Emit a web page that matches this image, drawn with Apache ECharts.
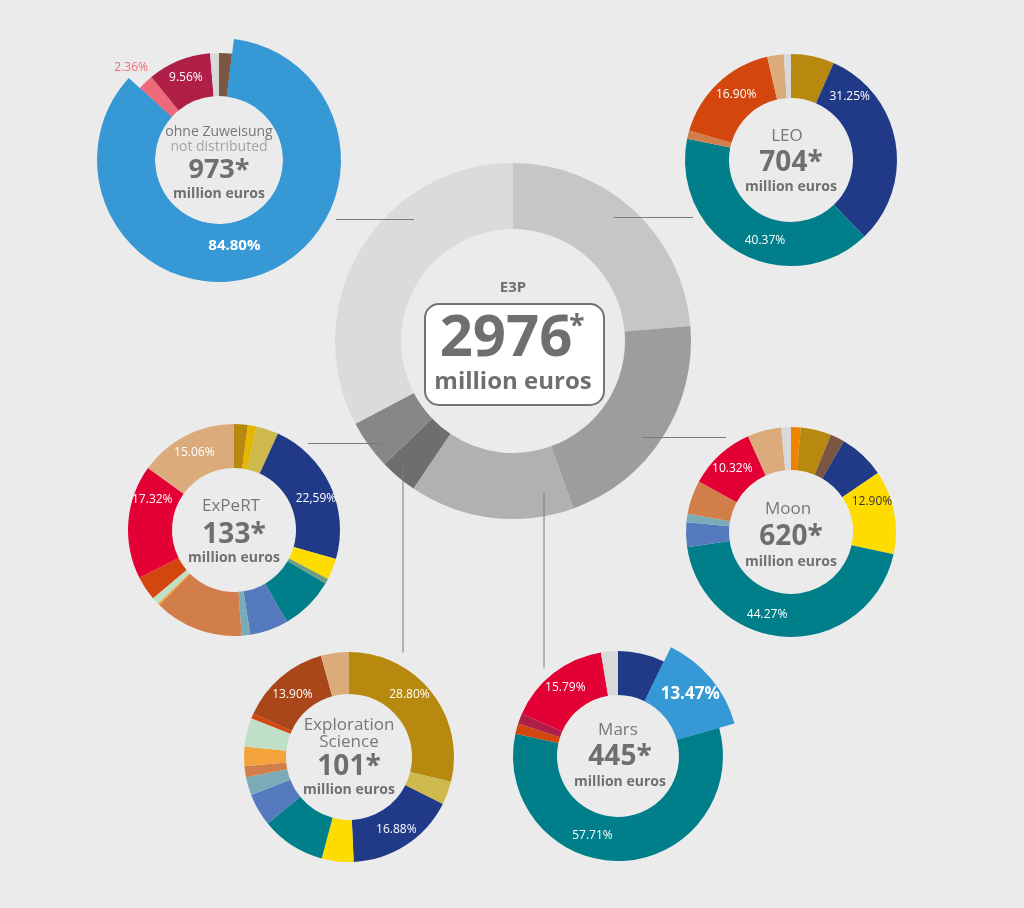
<!DOCTYPE html>
<html>
<head>
<meta charset="utf-8">
<title>E3P</title>
<script src="https://cdn.jsdelivr.net/npm/echarts@6.0.0/dist/echarts.min.js"></script>
<style>
  html, body { margin: 0; height: 100%; background: #ebebeb; }
  #main { width: 1024px; height: 908px; }
</style>
</head>
<body>
<div id="main"></div>
<script type="text/javascript">
// --- data ---
var e3pNames = ['LEO', 'Moon', 'Mars', 'Exploration Science', 'ExPeRT', 'ohne Zuweisung'];
var e3pValues = [704, 620, 445, 101, 133, 973];
var e3pTotal = '2976';

// ohne Zuweisung (973)
var ohneValues = [1.95, 84.80, 2.36, 9.56, 1.33];
var ohneLabels = ['', '84.80%', '2.36%', '9.56%', ''];
// LEO (704)
var leoValues = [6.6, 31.25, 40.37, 1.3, 16.90, 2.5, 1.1];
var leoLabels = ['', '31.25%', '40.37%', '', '16.90%', '', ''];
// ExPeRT (133)
var expertValues = [2.1, 1.3, 3.4, 22.59, 3.2, 0.8, 8.2, 5.9, 1.3, 13.6, 0.3, 1.1, 3.7, 17.32, 15.06];
var expertLabels = ['', '', '', '22,59%', '', '', '', '', '', '', '', '', '', '17.32%', '15.06%'];
// Moon (620)
var moonValues = [1.5, 4.7, 2.2, 7.1, 12.90, 44.27, 3.8, 1.3, 5.2, 10.32, 5.2, 1.5];
var moonLabels = ['', '', '', '', '12.90%', '44.27%', '', '', '', '10.32%', '', ''];
// Exploration Science (101)
var explValues = [28.80, 3.6, 16.88, 4.9, 9.9, 5.0, 2.8, 1.7, 3.0, 4.4, 0.8, 13.90, 4.3];
var explLabels = ['28.80%', '', '16.88%', '', '', '', '', '', '', '', '', '13.90%', ''];
// Mars (445)
var marsValues = [7.2, 13.47, 57.71, 1.6, 1.6, 15.79, 2.6];
var marsLabels = ['', '13.47%', '57.71%', '', '', '15.79%', ''];

// --- colours ---
var C = {
  navy: '#213a88', teal: '#007f8a', gold: '#b8890f', khaki: '#cdb94c', ygold: '#e5b500',
  yellow: '#ffdc00', tan: '#dcab7b', red: '#e30035', orred: '#d3460e', salmon: '#d27e4b',
  peri: '#5479bd', lteal: '#7aabb8', lgreen: '#bfe0c6', orange: '#f4a33a', brown: '#7b5741',
  lgray: '#d9d9d9', borange: '#f18200', rust: '#a9461a', crimson: '#b01f48', ggreen: '#6e9c84',
  blue: '#3698d5', pink: '#ee6a7b'
};
var e3pColors = ['#c6c6c6', '#9d9d9d', '#b1b1b1', '#6e6e6e', '#878787', '#dbdbdb'];
var ohneColors = [C.brown, C.blue, C.pink, C.crimson, C.lgray];
var leoColors = [C.gold, C.navy, C.teal, C.salmon, C.orred, C.tan, C.lgray];
var expertColors = [C.gold, C.ygold, C.khaki, C.navy, C.yellow, C.ggreen, C.teal, C.peri, C.lteal,
  C.salmon, C.orange, C.lgreen, C.orred, C.red, C.tan];
var moonColors = [C.borange, C.gold, C.brown, C.navy, C.yellow, C.teal, C.peri, C.lteal, C.salmon,
  C.red, C.tan, C.lgray];
var explColors = [C.gold, C.khaki, C.navy, C.yellow, C.teal, C.peri, C.lteal, C.salmon, C.orange,
  C.lgreen, C.orred, C.rust, C.tan];
var marsColors = [C.navy, C.blue, C.teal, C.orred, C.crimson, C.red, C.lgray];

var FONT = '"Open Sans", "Noto Sans", sans-serif';

// build one small donut (plus an overlay for the slice that sticks out)
function donut(cfg) {
  var out = [];
  var lbl = function (i) {
    var st = (cfg.labelStyle && cfg.labelStyle[i]) || {};
    return {
      show: cfg.labels[i] !== '',
      position: 'inside',
      formatter: cfg.labels[i],
      color: st.color || '#ffffff',
      fontSize: st.fontSize || 12,
      fontWeight: st.fontWeight || 'normal',
      fontFamily: FONT
    };
  };
  var layout = function (p) {
    var o = cfg.offsets && cfg.offsets[p.dataIndex];
    return o ? { dx: o[0], dy: o[1] } : {};
  };
  out.push({
    type: 'pie', center: cfg.center, radius: [cfg.r, cfg.R],
    startAngle: 90, clockwise: true, silent: true, avoidLabelOverlap: false,
    labelLine: { show: false }, labelLayout: layout,
    data: cfg.values.map(function (v, i) {
      var hide = (i === cfg.big);
      return { value: v, itemStyle: { color: cfg.colors[i] }, label: hide ? { show: false } : lbl(i) };
    })
  });
  if (cfg.big !== undefined) {
    out.push({
      type: 'pie', center: cfg.center, radius: [cfg.r, cfg.bigR], z: 3,
      startAngle: 90, clockwise: true, silent: true, avoidLabelOverlap: false,
      labelLine: { show: false }, labelLayout: layout,
      data: cfg.values.map(function (v, i) {
        var on = (i === cfg.big);
        return { value: v, itemStyle: { color: on ? cfg.colors[i] : 'rgba(0,0,0,0)' },
                 label: on ? lbl(i) : { show: false } };
      })
    });
  }
  return out;
}

function centerText(cx, cy, lines) {
  return lines.map(function (l) {
    return {
      type: 'text', x: cx + (l.dx || 0), y: cy + l.dy, z: 10, silent: true,
      style: {
        text: l.text, fill: l.color || '#6f6f6f', fontSize: l.size,
        fontWeight: l.bold ? 'bold' : 'normal', fontFamily: FONT,
        align: 'center', verticalAlign: 'middle'
      }
    };
  });
}

var series = [];
// central E3P donut
series.push({
  type: 'pie', center: [513, 341], radius: [112, 178],
  startAngle: 90, clockwise: true, silent: true,
  label: { show: false }, labelLine: { show: false },
  data: e3pValues.map(function (v, i) {
    return { name: e3pNames[i], value: v, itemStyle: { color: e3pColors[i] } };
  })
});

series = series.concat(donut({
  center: [219, 160], r: 64, R: 107, big: 1, bigR: 122,
  values: ohneValues, labels: ohneLabels, colors: ohneColors,
  labelStyle: { 1: { fontWeight: 'bold', fontSize: 15 }, 2: { color: C.pink } },
  offsets: { 1: [-18, -4], 2: [-27, -28] }
}));
series = series.concat(donut({
  center: [791, 160], r: 62, R: 106,
  values: leoValues, labels: leoLabels, colors: leoColors,
  offsets: { 1: [-27, -48], 4: [5, -2], 2: [16, 4] }
}));
series = series.concat(donut({
  center: [234, 530], r: 62, R: 106,
  values: expertValues, labels: expertLabels, colors: expertColors,
  offsets: { 3: [3, 5], 13: [5, -24] }
}));
series = series.concat(donut({
  center: [791, 532], r: 62, R: 105,
  values: moonValues, labels: moonLabels, colors: moonColors,
  labelStyle: { 4: { color: '#333333' } },
  offsets: { 4: [-4, -14], 5: [-21, -4] }
}));
series = series.concat(donut({
  center: [349, 757], r: 63, R: 105,
  values: explValues, labels: explLabels, colors: explColors,
  offsets: { 0: [-8, -9], 11: [0, 4] }
}));
series = series.concat(donut({
  center: [618, 756], r: 61, R: 105, big: 1, bigR: 121,
  values: marsValues, labels: marsLabels, colors: marsColors,
  labelStyle: { 1: { fontWeight: 'bold', fontSize: 17 } },
  offsets: { 1: [0, -2], 2: [-28, -6] }
}));

var graphics = [];
// connector lines
var lineStyle = { stroke: '#7a7a7a', lineWidth: 1 };
[[336, 219, 414, 219], [614, 217, 693, 217], [642, 437, 726, 437],
 [308, 443, 382, 443], [403, 465, 403, 652], [544, 492, 544, 667]].forEach(function (s) {
  graphics.push({ type: 'line', z: 5, silent: true, shape: { x1: s[0], y1: s[1] + 0.5, x2: s[2], y2: s[3] + 0.5 }, style: lineStyle });
});

// centre box
graphics.push({
  type: 'rect', z: 8, silent: true,
  shape: { x: 425, y: 304, width: 179, height: 101, r: 14 },
  style: { fill: '#ffffff', stroke: '#737373', lineWidth: 2 }
});
graphics = graphics.concat(centerText(513, 341, [
  { text: 'E3P', dy: -53, size: 15, bold: true },
  { text: e3pTotal, dy: -2, dx: -7, size: 58, bold: true },
  { text: '*', dy: -14, dx: 64, size: 28, bold: true },
  { text: 'million euros', dy: 41, size: 24, bold: true }
]));

graphics = graphics.concat(centerText(219, 160, [
  { text: 'ohne Zuweisung', dy: -28, size: 14, color: '#777777' },
  { text: 'not distributed', dy: -13, size: 14, color: '#a3a3a3' },
  { text: e3pValues[5] + '*', dy: 10, size: 27, bold: true },
  { text: 'million euros', dy: 34, size: 14, bold: true }
]));
graphics = graphics.concat(centerText(791, 160, [
  { text: 'LEO', dy: -24, dx: -4, size: 17, color: '#777777' },
  { text: e3pValues[0] + '*', dy: 3, size: 28, bold: true },
  { text: 'million euros', dy: 27, size: 14, bold: true }
]));
graphics = graphics.concat(centerText(234, 530, [
  { text: 'ExPeRT', dy: -24, dx: -3, size: 17, color: '#777777' },
  { text: e3pValues[4] + '*', dy: 5, size: 28, bold: true },
  { text: 'million euros', dy: 28, size: 14, bold: true }
]));
graphics = graphics.concat(centerText(791, 532, [
  { text: 'Moon', dy: -23, dx: -3, size: 17, color: '#777777' },
  { text: e3pValues[1] + '*', dy: 5, size: 28, bold: true },
  { text: 'million euros', dy: 30, size: 14, bold: true }
]));
graphics = graphics.concat(centerText(349, 757, [
  { text: 'Exploration', dy: -32, size: 17, color: '#777777' },
  { text: 'Science', dy: -15, size: 17, color: '#777777' },
  { text: e3pValues[3] + '*', dy: 10, size: 28, bold: true },
  { text: 'million euros', dy: 33, size: 14, bold: true }
]));
graphics = graphics.concat(centerText(618, 756, [
  { text: 'Mars', dy: -26, size: 17, color: '#777777' },
  { text: e3pValues[2] + '*', dy: 1, dx: 2, size: 28, bold: true },
  { text: 'million euros', dy: 26, dx: 2, size: 14, bold: true }
]));

var myChart = echarts.init(document.getElementById('main'));
myChart.setOption({
  backgroundColor: '#ebebeb',
  animation: false,
  series: series,
  graphic: { elements: graphics }
});
</script>
</body>
</html>
